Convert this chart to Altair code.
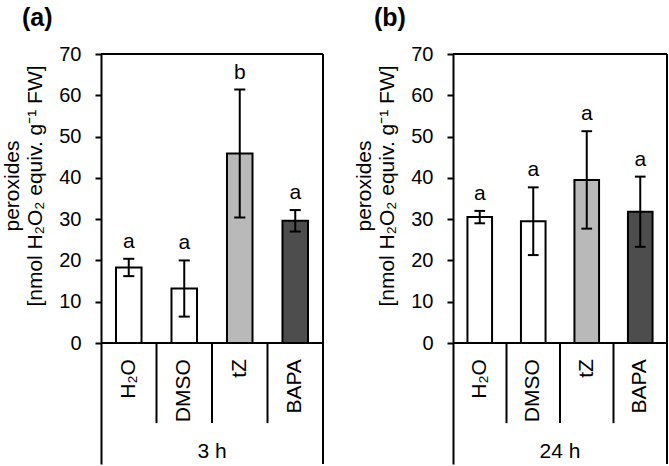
import altair as alt
import pandas as pd

# Peroxide content per treatment (mean ± SD), two sampling times
categories = ["H₂O", "DMSO", "tZ", "BAPA"]
mean_3h = [18.3, 13.2, 45.9, 29.6]
sd_3h = [2.1, 6.8, 15.5, 2.6]
letters_3h = ["a", "a", "b", "a"]
mean_24h = [30.5, 29.5, 39.5, 31.8]
sd_24h = [1.5, 8.2, 11.8, 8.5]
letters_24h = ["a", "a", "a", "a"]
y_ticks = [0, 10, 20, 30, 40, 50, 60, 70]
periods = ["3 h", "24 h"]
panel_tags = ["(a)", "(b)"]
y_title = ["peroxides", "[nmol H₂O₂ equiv. g⁻¹ FW]"]

# Styling and layout constants
FONT = "Liberation Sans"
FILLS = ["#ffffff", "#ffffff", "#b9b9b9", "#4d4d4d"]
Y_TOP = 70
Y_BOTTOM = -29.3          # space under zero for the category strip
PLOT_H = 410
BAR_HALF = 0.23
CAP_HALF = 0.1
LABEL_TOP = -3.9
DIVIDER_END = -19.4
GROUP_Y = -26.4
LW = 2
TITLE_X = [-82, -59]      # baselines of the two rotated title lines (px from plot left)
TITLE_Y = 132


def panel(means, sds, letters, period, tag, width):
    df = pd.DataFrame({"treatment": categories, "mean": means, "sd": sds, "letter": letters})
    df["pos"] = df.index + 0.5
    df["left"] = df["pos"] - BAR_HALF
    df["right"] = df["pos"] + BAR_HALF
    df["lo"] = df["mean"] - df["sd"]
    df["hi"] = df["mean"] + df["sd"]
    df["cap_l"] = df["pos"] - CAP_HALF
    df["cap_r"] = df["pos"] + CAP_HALF
    edges = pd.DataFrame({"edge": list(range(1, len(categories)))})
    one = pd.DataFrame({"k": [0]})
    n = len(categories)

    xs = alt.Scale(domain=[0, n], nice=False, zero=False)
    ys = alt.Scale(domain=[Y_BOTTOM, Y_TOP], nice=False, zero=False)
    y_axis = alt.Axis(
        values=y_ticks, title="", grid=False,
        labelFont=FONT, labelFontSize=20, labelColor="black", labelPadding=14,
        tickSize=6, tickWidth=LW, tickColor="black",
        domainColor="black", domainWidth=LW,
    )

    base = alt.Chart(df)
    bars = base.mark_bar(stroke="black", strokeWidth=LW).encode(
        x=alt.X("left:Q", scale=xs, axis=None),
        x2="right:Q",
        y=alt.Y("mean:Q", scale=ys, axis=y_axis),
        y2=alt.datum(0),
        fill=alt.Fill("treatment:N", scale=alt.Scale(domain=categories, range=FILLS), legend=None),
    )
    whisk = base.mark_rule(color="black", strokeWidth=LW).encode(
        x="pos:Q", y="lo:Q", y2="hi:Q")
    cap_hi = base.mark_rule(color="black", strokeWidth=LW).encode(
        x="cap_l:Q", x2="cap_r:Q", y="hi:Q")
    cap_lo = base.mark_rule(color="black", strokeWidth=LW).encode(
        x="cap_l:Q", x2="cap_r:Q", y="lo:Q")
    sig = base.mark_text(font=FONT, fontSize=21, color="black", baseline="alphabetic", dy=-11).encode(
        x="pos:Q", y="hi:Q", text="letter:N")
    cats = base.mark_text(font=FONT, fontSize=21, color="black", angle=270,
                          align="right", baseline="middle").encode(
        x="pos:Q", y=alt.datum(LABEL_TOP), text="treatment:N")

    frame = alt.Chart(one)
    top = frame.mark_rule(color="black", strokeWidth=LW).encode(
        x=alt.datum(0), x2=alt.datum(n), y=alt.datum(Y_TOP))
    zero = frame.mark_rule(color="black", strokeWidth=LW).encode(
        x=alt.datum(0), x2=alt.datum(n), y=alt.datum(0))
    right = frame.mark_rule(color="black", strokeWidth=LW).encode(
        x=alt.datum(n), y=alt.datum(Y_BOTTOM), y2=alt.datum(Y_TOP))
    dividers = alt.Chart(edges).mark_rule(color="black", strokeWidth=LW).encode(
        x="edge:Q", y=alt.datum(0), y2=alt.datum(DIVIDER_END))
    group = frame.mark_text(font=FONT, fontSize=21, color="black", baseline="middle").encode(
        x=alt.datum(n / 2), y=alt.datum(GROUP_Y), text=alt.value(period))
    label = frame.mark_text(font=FONT, fontSize=25, fontWeight="bold", color="black",
                            align="left", baseline="middle").encode(
        x=alt.value(-79), y=alt.value(-36), text=alt.value(tag))
    titles = [
        frame.mark_text(font=FONT, fontSize=21, color="black", angle=270,
                        align="center", baseline="alphabetic").encode(
            x=alt.value(tx), y=alt.value(TITLE_Y), text=alt.value(line))
        for tx, line in zip(TITLE_X, y_title)
    ]

    return alt.layer(bars, whisk, cap_hi, cap_lo, sig, cats, top, zero, right,
                     dividers, group, label, *titles).properties(width=width, height=PLOT_H)


left = panel(mean_3h, sd_3h, letters_3h, periods[0], panel_tags[0], 222)
right = panel(mean_24h, sd_24h, letters_24h, periods[1], panel_tags[1], 214)

chart = alt.hconcat(left, right, spacing=30).properties(
    padding={"left": 2, "top": 6, "right": 0, "bottom": 0},
    background="white",
).configure_view(stroke=None)

chart.save("out.html", embed_options={"renderer": "svg", "actions": False})
